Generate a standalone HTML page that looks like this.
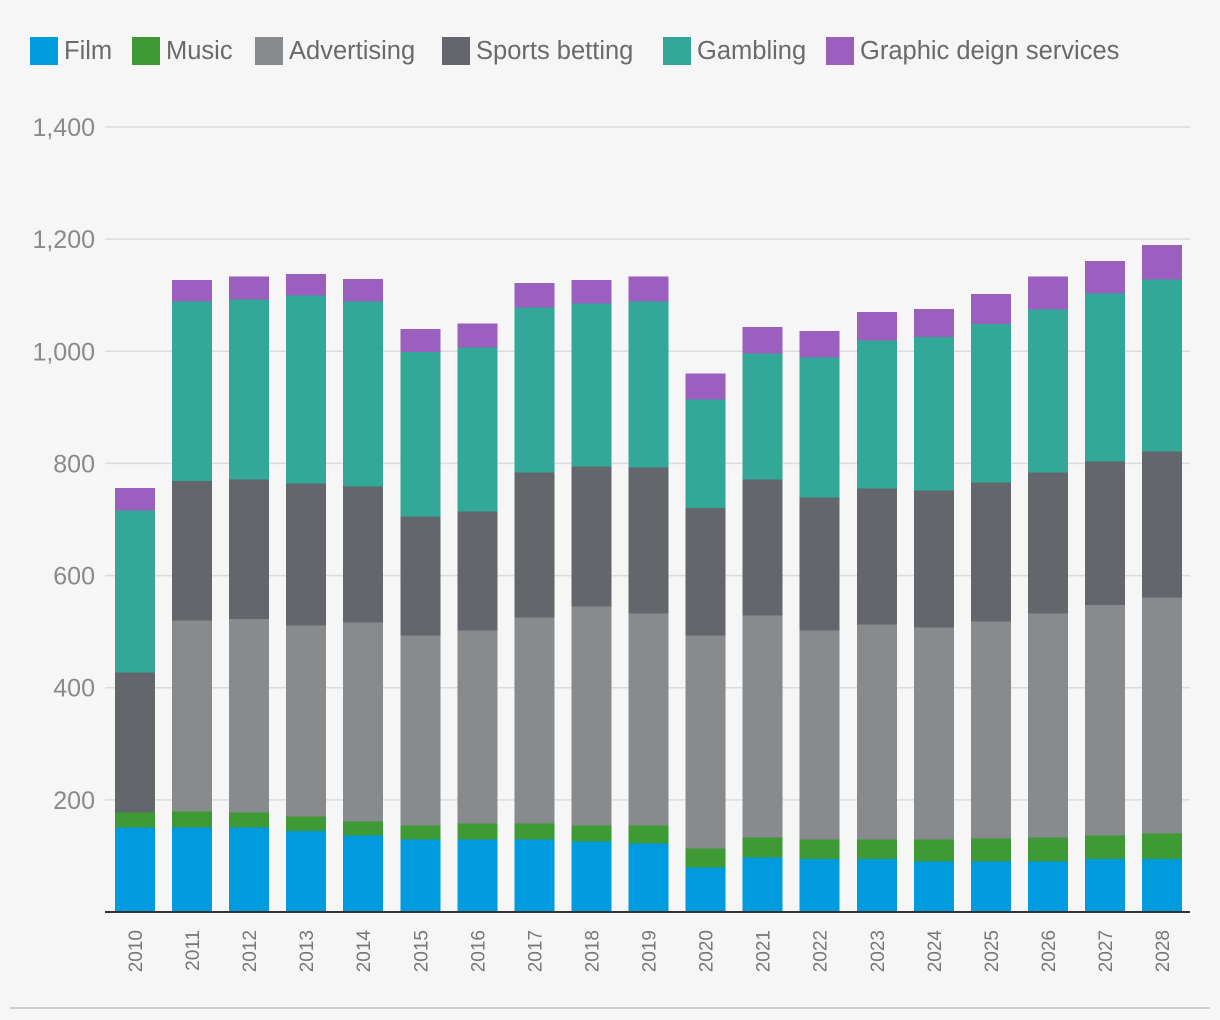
<!DOCTYPE html>
<html><head><meta charset="utf-8"><style>
body{margin:0;background:#f6f6f6;font-family:"Liberation Sans",sans-serif;}
#wrap{position:relative;width:1220px;height:1020px;overflow:hidden;background:#f6f6f6}
.lg{position:absolute;top:36px;height:30px;display:flex;align-items:center;font-size:25.5px;color:#6a6a6a}
.sw{width:28px;height:28px;margin-right:6px}
</style></head><body>
<div id="wrap">
<div class="lg" style="left:30px"><div class="sw" style="background:#009ade"></div>Film</div>
<div class="lg" style="left:132px"><div class="sw" style="background:#3d9a35"></div>Music</div>
<div class="lg" style="left:255px"><div class="sw" style="background:#888b8d"></div>Advertising</div>
<div class="lg" style="left:442px"><div class="sw" style="background:#63666a"></div>Sports betting</div>
<div class="lg" style="left:663px"><div class="sw" style="background:#33a898"></div>Gambling</div>
<div class="lg" style="left:826px"><div class="sw" style="background:#9b5fc0"></div>Graphic deign services</div>
<svg id="svg" width="1220" height="1020" style="position:absolute;left:0;top:0"></svg>
</div>
<script>
const years=[2010,2011,2012,2013,2014,2015,2016,2017,2018,2019,2020,2021,2022,2023,2024,2025,2026,2027,2028];
const film=[152,152,152,145,137,130,130,130,127,123,80,98,95,95,91,91,91,95,95];
const music=[26,28,26,26,25,25,29,29,28,32,34,36,35,35,39,41,43,42,46];
const advertising=[0,341,345,341,355,339,344,367,391,378,380,396,373,384,378,387,399,411,421];
const sports=[250,249,249,253,243,212,212,259,249,261,227,242,237,242,245,248,252,256,260];
const gambling=[289,320,321,335,330,294,293,294,291,296,194,225,250,264,273,283,290,300,307];
const graphic=[39,37,40,38,39,40,42,43,41,43,45,46,46,50,49,52,58,57,61];
const yTicks=[200,400,600,800,1000,1200,1400];
const yLabels=["200","400","600","800","1,000","1,200","1,400"];
const series=[[film,'#009ade','film'],[music,'#3d9a35','music'],[advertising,'#888b8d','advertising'],[sports,'#63666a','sports-betting'],[gambling,'#33a898','gambling'],[graphic,'#9b5fc0','graphic-design']];
const svg=document.getElementById('svg');const NS='http://www.w3.org/2000/svg';
const y0=912,yTop=127,maxV=1400;
const y=v=>y0-v*(y0-yTop)/maxV;
const x=i=>115+i*57.06;const bw=40;
function mk(t,a){const e=document.createElementNS(NS,t);for(const k in a)e.setAttribute(k,a[k]);svg.appendChild(e);return e;}
yTicks.forEach((t,i)=>{
 const l=mk('line',{x1:105,x2:1190,y1:y(t),y2:y(t),stroke:'#dcdcdc','stroke-width':1.5});
 
 
 const tx=mk('text',{x:95,y:y(t)+9,'text-anchor':'end','font-size':25,fill:'#8a8a8a'});
 tx.textContent=yLabels[i];
 
 
});
years.forEach((yr,i)=>{
 let acc=0;
 series.forEach(s=>{
  const v=s[0][i];if(v<=0)return;
  const r=mk('rect',{x:x(i),y:y(acc+v),width:bw,height:y(acc)-y(acc+v)+0.5,fill:s[1],'shape-rendering':'crispEdges'});
  
  
  acc+=v;
 });
 const cx=x(i)+bw/2+7;
 const t=mk('text',{x:cx,y:930,'text-anchor':'end','font-size':19,fill:'#777',transform:`rotate(-90 ${cx} 930)`});
 t.textContent=yr;
 
 
});
const ax=mk('line',{x1:105,x2:1190,y1:y0,y2:y0,stroke:'#333','stroke-width':2});


const bl=mk('line',{x1:10,x2:1210,y1:1008,y2:1008,stroke:'#cfcfcf','stroke-width':2});


</script>
</body></html>
